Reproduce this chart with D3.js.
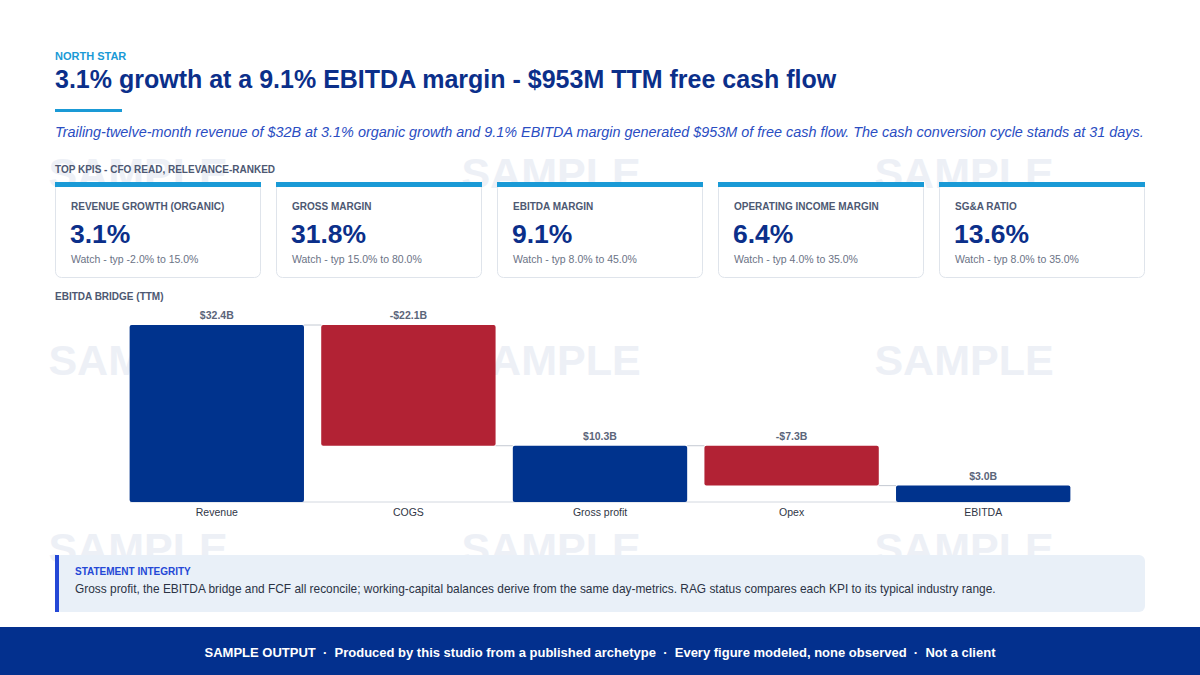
<!DOCTYPE html>
<html>
<head>
<meta charset="utf-8">
<script src="https://cdn.jsdelivr.net/npm/d3@7/dist/d3.min.js"></script>
<style>
  html,body{margin:0;padding:0;background:#fff;}
  svg{display:block;font-family:"Liberation Sans",Arial,Helvetica,sans-serif;}
</style>
</head>
<body>
<svg id="chart" width="1200" height="675"></svg>
<script>
// ---- Data ----
const eyebrow = "NORTH STAR";
const title = "3.1% growth at a 9.1% EBITDA margin - $953M TTM free cash flow";
const subtitle = "Trailing-twelve-month revenue of $32B at 3.1% organic growth and 9.1% EBITDA margin generated $953M of free cash flow. The cash conversion cycle stands at 31 days.";
const kpiSection = "TOP KPIS - CFO READ, RELEVANCE-RANKED";
const kpiNames = ["REVENUE GROWTH (ORGANIC)", "GROSS MARGIN", "EBITDA MARGIN", "OPERATING INCOME MARGIN", "SG&A RATIO"];
const kpiValues = ["3.1%", "31.8%", "9.1%", "6.4%", "13.6%"];
const kpiRanges = ["Watch - typ -2.0% to 15.0%", "Watch - typ 15.0% to 80.0%", "Watch - typ 8.0% to 45.0%", "Watch - typ 4.0% to 35.0%", "Watch - typ 8.0% to 35.0%"];
const bridgeTitle = "EBITDA BRIDGE (TTM)";
const categories = ["Revenue", "COGS", "Gross profit", "Opex", "EBITDA"];
const values = [32.4, -22.1, 10.3, -7.3, 3.0];
const barTypes = ["total", "delta", "total", "delta", "total"];
const noteTitle = "STATEMENT INTEGRITY";
const noteText = "Gross profit, the EBITDA bridge and FCF all reconcile; working-capital balances derive from the same day-metrics. RAG status compares each KPI to its typical industry range.";
const footerParts = ["SAMPLE OUTPUT", "Produced by this studio from a published archetype", "Every figure modeled, none observed", "Not a client"];
const watermarkText = "SAMPLE";

// ---- Colours ----
const NAVY = "#0b2f8a", SKY = "#1a9ad6", BAR_POS = "#00338d", BAR_NEG = "#b22234";
const GREY_LABEL = "#4d5872";

const svg = d3.select("#chart");

// watermarks (behind)
const wm = svg.append("g");
[188, 375, 563].forEach(y => {
  [138, 551, 964].forEach(x => {
    wm.append("text").attr("x", x).attr("y", y).attr("text-anchor", "middle")
      .attr("font-size", 43).attr("font-weight", "bold").attr("fill", "#edf0f6").text(watermarkText);
  });
});

// header
svg.append("text").attr("x", 55).attr("y", 60).attr("font-size", 11).attr("font-weight", "bold")
  .attr("fill", SKY).text(eyebrow);
svg.append("text").attr("x", 55).attr("y", 88).attr("font-size", 25).attr("font-weight", "bold")
  .attr("fill", NAVY).text(title);
svg.append("rect").attr("x", 55).attr("y", 109).attr("width", 67).attr("height", 3).attr("fill", SKY);
svg.append("text").attr("x", 55).attr("y", 137).attr("font-size", 14.4).attr("font-style", "italic")
  .attr("fill", "#2a4dc2").text(subtitle);

svg.append("text").attr("x", 55).attr("y", 173).attr("font-size", 10).attr("font-weight", "bold")
  .attr("fill", GREY_LABEL).text(kpiSection);

// KPI cards
const cardW = 206;
kpiNames.forEach((name, i) => {
  const x = 55 + i * 221;
  const g = svg.append("g").attr("transform", `translate(${x},182)`);
  g.append("rect").attr("x", 0.5).attr("y", 0.5).attr("width", cardW - 1).attr("height", 95)
    .attr("rx", 6).attr("fill", "#fff").attr("stroke", "#dfe4eb");
  g.append("rect").attr("x", 0).attr("y", 0).attr("width", cardW).attr("height", 5).attr("fill", SKY);
  g.append("text").attr("x", 16).attr("y", 28).attr("font-size", 10).attr("font-weight", "bold")
    .attr("fill", GREY_LABEL).text(name);
  g.append("text").attr("x", 15).attr("y", 61).attr("font-size", 26.5).attr("font-weight", "bold")
    .attr("fill", NAVY).text(kpiValues[i]);
  g.append("text").attr("x", 16).attr("y", 81).attr("font-size", 10.5)
    .attr("fill", "#6b7386").text(kpiRanges[i]);
});

// Bridge title
svg.append("text").attr("x", 55).attr("y", 300).attr("font-size", 10).attr("font-weight", "bold")
  .attr("fill", GREY_LABEL).text(bridgeTitle);

// Waterfall
let running = 0;
const bars = categories.map((c, i) => {
  const v = values[i];
  let start, end;
  if (barTypes[i] === "total") { start = 0; end = v; running = v; }
  else { start = running; end = running + v; running = end; }
  return { cat: c, v, start, end, type: barTypes[i] };
});

const x = d3.scaleBand().domain(categories).range([121, 1079]).paddingInner(0.09).paddingOuter(0.045);
const y = d3.scaleLinear().domain([0, d3.max(bars, d => Math.max(d.start, d.end))]).range([502, 325]);

const chart = svg.append("g");
chart.append("line").attr("x1", x.range()[0] + 9).attr("x2", x.range()[1] - 9)
  .attr("y1", y(0)).attr("y2", y(0)).attr("stroke", "#d3d8e0").attr("stroke-width", 1);

// connectors
bars.slice(0, -1).forEach((d, i) => {
  const nxt = bars[i + 1];
  chart.append("line").attr("x1", x(d.cat) + x.bandwidth()).attr("x2", x(nxt.cat))
    .attr("y1", y(d.end)).attr("y2", y(d.end)).attr("stroke", "#c4cad3").attr("stroke-width", 1);
});

chart.selectAll("rect.bar").data(bars).join("rect").attr("class", "bar")
  .attr("x", d => x(d.cat)).attr("width", x.bandwidth())
  .attr("y", d => y(Math.max(d.start, d.end)))
  .attr("height", d => Math.abs(y(d.start) - y(d.end)))
  .attr("rx", 2)
  .attr("fill", d => d.v < 0 ? BAR_NEG : BAR_POS);

const fmt = v => (v < 0 ? "-$" : "$") + Math.abs(v).toFixed(1) + "B";
chart.selectAll("text.vl").data(bars).join("text").attr("class", "vl")
  .attr("x", d => x(d.cat) + x.bandwidth() / 2)
  .attr("y", d => y(Math.max(d.start, d.end)) - 6)
  .attr("text-anchor", "middle").attr("font-size", 10.5).attr("font-weight", "bold")
  .attr("fill", "#5b657a").text(d => fmt(d.v));

const xAxis = chart.append("g").attr("transform", `translate(0,${y(0)})`)
  .call(d3.axisBottom(x).tickSize(0).tickPadding(7));
xAxis.select(".domain").remove();
xAxis.selectAll("text").attr("font-size", 10.5).attr("fill", "#2f3646")
  .attr("font-family", "'Liberation Sans',Arial,sans-serif");

// Statement box
svg.append("rect").attr("x", 55).attr("y", 555).attr("width", 1090).attr("height", 57)
  .attr("rx", 6).attr("fill", "#e9f0f8");
svg.append("rect").attr("x", 55).attr("y", 555).attr("width", 4).attr("height", 57).attr("fill", "#2448d6");
svg.append("text").attr("x", 75).attr("y", 575).attr("font-size", 10).attr("font-weight", "bold")
  .attr("fill", "#2448d6").text(noteTitle);
svg.append("text").attr("x", 75).attr("y", 593).attr("font-size", 11.9)
  .attr("fill", "#2b3345").text(noteText);

// Footer
svg.append("rect").attr("x", 0).attr("y", 627).attr("width", 1200).attr("height", 48).attr("fill", "#03308e");
svg.append("text").attr("x", 600).attr("y", 657).attr("text-anchor", "middle")
  .attr("font-size", 13).attr("font-weight", "bold").attr("fill", "#fff")
  .text(footerParts.join("  \u00b7  ")).style("white-space", "pre");
</script>
</body>
</html>
